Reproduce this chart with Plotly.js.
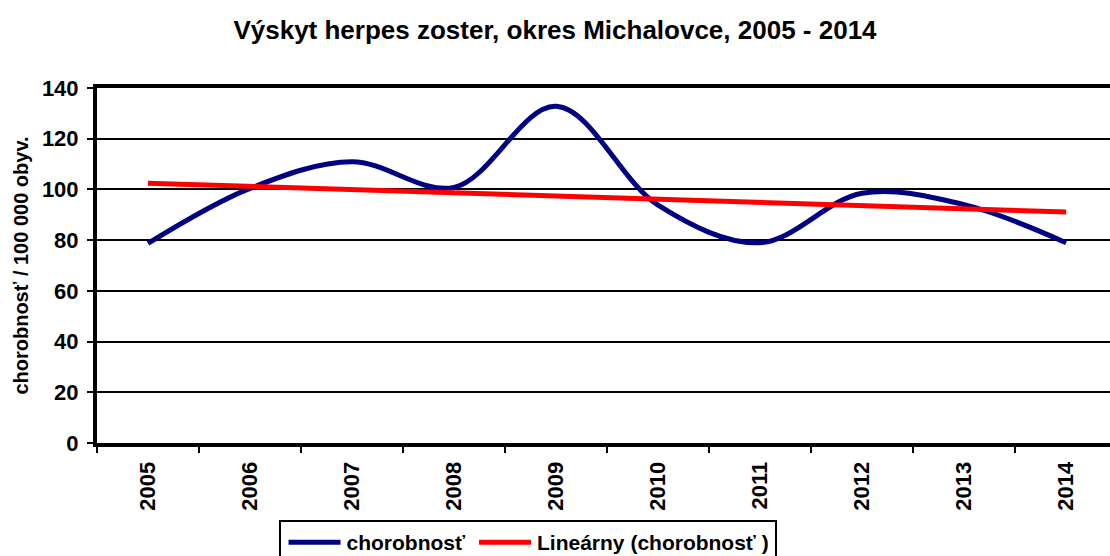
<!DOCTYPE html>
<html>
<head>
<meta charset="utf-8">
<script src="https://cdn.plot.ly/plotly-3.0.1.min.js"></script>
<style>
html,body{margin:0;padding:0;overflow:hidden;background:#fff;}
#chart{width:1110px;height:556px;}
</style>
</head>
<body>
<div id="chart"></div>
<script>
const years = ['2005','2006','2007','2008','2009','2010','2011','2012','2013','2014'];
const chorobnost = [78.7, 100.4, 110.9, 100.8, 132.8, 93.8, 79.0, 98.5, 94.0, 79.0];
const yTicks = [0, 20, 40, 60, 80, 100, 120, 140];

// linear trend (least squares) from the series
const n = chorobnost.length;
const xs = chorobnost.map((_, i) => i);
const mx = xs.reduce((a, b) => a + b, 0) / n;
const my = chorobnost.reduce((a, b) => a + b, 0) / n;
let sxy = 0, sxx = 0;
xs.forEach((x, i) => { sxy += (x - mx) * (chorobnost[i] - my); sxx += (x - mx) * (x - mx); });
const slope = sxy / sxx, icpt = my - slope * mx;
const trend = xs.map(x => icpt + slope * x);

const F = '"Liberation Sans", Arial, sans-serif';

const data = [
  {x: years, y: chorobnost, type: 'scatter', mode: 'lines', name: '<b>chorobnosť</b>',
   line: {color: '#000080', width: 5, shape: 'spline', smoothing: 1}},
  {x: years, y: trend, type: 'scatter', mode: 'lines', name: '<b>Lineárny (chorobnosť )</b>',
   line: {color: '#FF0000', width: 5}}
];

const layout = {
  width: 1110, height: 556,
  margin: {l: 97, r: 0, t: 88, b: 113, autoexpand: false},
  paper_bgcolor: '#fff', plot_bgcolor: '#fff',
  title: {text: '<b>Výskyt herpes zoster, okres Michalovce, 2005 - 2014</b>',
          font: {family: F, size: 26, color: '#000', weight: 'bold'},
          x: 0.5, xanchor: 'center', y: 0.946, yanchor: 'middle'},
  xaxis: {type: 'category', range: [-0.5, 9.43], tickson: 'boundaries',
          ticks: 'outside', ticklen: 6, tickwidth: 2, tickcolor: '#000',
          showline: true, linecolor: '#000', linewidth: 4, mirror: true,
          showgrid: false, zeroline: false, tickangle: -90, automargin: false,
          ticklabelstandoff: 6,
          tickfont: {family: F, size: 22, color: '#000', weight: 'bold'}},
  yaxis: {range: [0, 140], tickvals: yTicks, ticktext: yTicks.map(v => '<b>' + v + '</b>'),
          ticks: 'outside', ticklen: 6, tickwidth: 2, tickcolor: '#000',
          showline: true, linecolor: '#000', linewidth: 4, automargin: false,
          showgrid: true, gridcolor: '#000', gridwidth: 2, zeroline: false,
          ticklabelstandoff: 4,
          tickfont: {family: F, size: 22, color: '#000', weight: 'bold'},
          title: {text: '<b>chorobnosť / 100 000 obyv.</b>', standoff: 9,
                  font: {family: F, size: 20, color: '#000', weight: 'bold'}}},
  showlegend: true,
  legend: {orientation: 'h', x: 0.425, xanchor: 'center', y: -0.217, yanchor: 'top',
           bordercolor: '#000', borderwidth: 2, bgcolor: '#fff',
           font: {family: F, size: 21, color: '#000', weight: 'bold'},
           itemwidth: 56, tracegroupgap: 0}
};

Plotly.newPlot('chart', data, layout, {displayModeBar: false, staticPlot: true}).then(gd => {
  // lengthen legend line samples to match the reference
  gd.querySelectorAll('.legend .traces').forEach(g => {
    const t = g.querySelector('text.legendtext');
    const p = g.querySelector('.legendlines path');
    if (t && p) {
      const tx = parseFloat(t.getAttribute('x')) || 0;
      p.setAttribute('d', 'M' + (tx - 58) + ',0h52');
    }
  });
});
</script>
</body>
</html>
